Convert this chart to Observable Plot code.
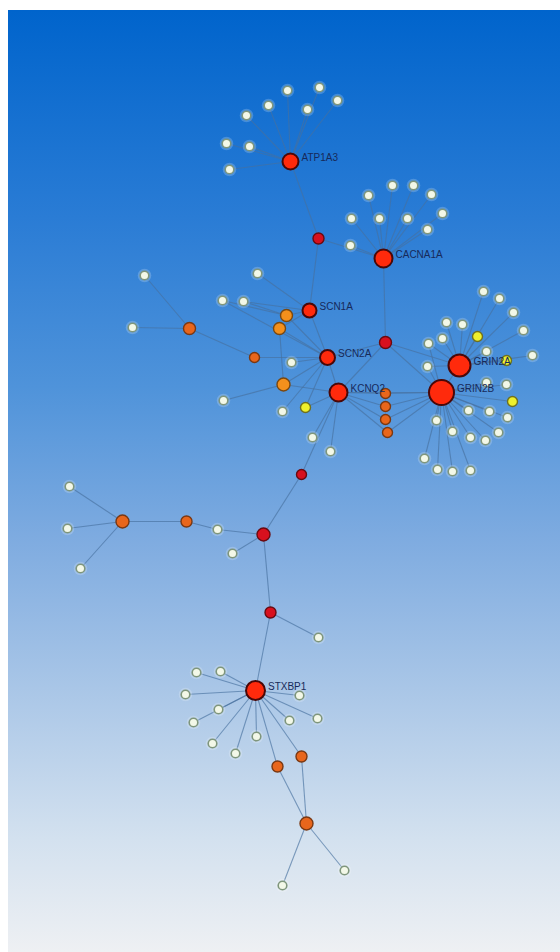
<!DOCTYPE html>
<html>
<head>
<meta charset="utf-8">
<script src="https://cdn.jsdelivr.net/npm/d3@7"></script>
<script src="https://cdn.jsdelivr.net/npm/@observablehq/plot@0.6"></script>
<style>
  html, body { margin: 0; padding: 0; background: #ffffff; }
  #wrap { position: relative; width: 560px; height: 952px; background: #ffffff; overflow: hidden; }
  #bg { position: absolute; left: 8px; top: 10px; right: 0; bottom: 0;
        background: linear-gradient(to bottom, #0064cc 0%, #2a7cd5 22%, #4f93da 40%, #7eabe0 56%, #a9c6e7 72%, #d3e1ef 88%, #eef0f3 100%); }
  #chart { position: absolute; left: 0; top: 0; }
</style>
</head>
<body>
<div id="wrap"><div id="bg"></div><div id="chart"></div></div>
<script>
// ---- Node data (layout coordinates) ----
const nodeIds = [
  "ATP1A3","CACNA1A","SCN1A","SCN2A","KCNQ2","GRIN2A","GRIN2B","STXBP1",
  "r1","r2","r3","r4","r5",
  "o1","o2","o3","o4","o5","o6","o7","o8","o9","o10","o11","o12","o13","o14",
  "y1","y2","y3","y4",
  "a1","a2","a3","a4","a5","a6","a7","a8","a9",
  "c1","c2","c3","c4","c5","c6","c7","c8","c9","c10",
  "L0","L1","L2","L3","L4","L5","L6","L7","L8","L9","L10","L11","L12","L13","L14","L15","L16","L17",
  "s1","s2","s3","s4","s5","s6","s7","s8","s9","s10","s11",
  "gA1","gA2","gA3","gA4","gA5","gA6","gA7","gA8","gA9","gA10","gA11",
  "gB1","gB2","gB3","gB4","gB5","gB6","gB7","gB8","gB9","gB10","gB11","gB12","gB13","gB14"
];
const nodeX = [
  290,383,309,327,338,459,441,255,
  318,385,301,263,270,
  286,279,189,254,283,385,385,385,387,122,186,301,277,306,
  305,477,506,512,
  287,319,337,268,307,246,226,249,229,
  392,413,368,431,351,379,407,442,427,350,
  144,257,222,243,132,223,291,282,312,330,217,69,67,80,232,318,344,282,
  196,220,185,218,193,212,235,256,289,317,299,
  483,499,513,446,462,523,442,428,486,532,427,
  486,506,468,489,507,436,452,470,485,498,424,437,452,470
];
const nodeY = [
  161,258,310,357,392,365,392,690,
  238,342,474,534,612,
  315,328,328,357,384,393,406,419,432,521,521,756,766,823,
  407,336,360,401,
  90,87,100,105,109,115,143,146,169,
  185,185,195,194,218,218,218,213,229,245,
  275,273,300,301,327,400,362,411,437,451,529,486,528,568,553,637,870,885,
  672,671,694,709,722,743,753,736,720,718,695,
  291,298,312,322,324,330,338,343,351,355,366,
  382,384,410,411,417,420,431,437,440,432,458,469,471,470
];
// node category: hub gene, red connector, orange, amber, yellow, leaf
const nodeKind = [
  "hub","hub","hub","hub","hub","hub","hub","hub",
  "red","red","red","red","red",
  "amber","amber","orange","orange","amber","orange","orange","orange","orange","orange","orange","orange","orange","orange",
  "yellow","yellow","yellow","yellow",
  ...Array(9).fill("leaf"), ...Array(10).fill("leaf"), ...Array(18).fill("leaf"),
  ...Array(11).fill("leaf"), ...Array(11).fill("leaf"), ...Array(14).fill("leaf")
];
// node weight (drawn as radius)
const nodeWeight = [
  8,9,7,7.5,9,11,12.5,9.5,
  5.5,6,5,6.5,5.5,
  6,6,6,5,6.5,5,5,5,5,6.5,5.5,5.5,5.5,6.5,
  5,5,5,5,
  ...Array(9+10+18+11+11+14).fill(4.3)
];

// ---- Edge data ----
const edgeFrom = [
  "a1","a2","a3","a4","a5","a6","a7","a8","a9","ATP1A3","r1","r1",
  "c1","c2","c3","c4","c5","c6","c7","c8","c9","c10","CACNA1A",
  "L1","L3","o1","o2","SCN1A","L2","L3","L2",
  "L0","L4","o3","o4",
  "o1","o2","o2","o5","o5","L5","L6","L7","y1","y1",
  "SCN2A","SCN2A","r2","r2","r2",
  "o6","o7","o8","o9","o6","o7","o8","o9","KCNQ2",
  "L8","L9","KCNQ2","r3","L10","o11","o10","L11","L12","L13","L14","r4",
  "r5","r5",
  "s1","s2","s3","s4","s5","s6","s7","s8","s9","s10","s11","o12","o13","o12","o13","o14","o14",
  "GRIN2A",
  "gA1","gA2","gA3","gA4","gA5","gA6","gA7","gA8","gA9","gA10","gA11","y2","y3",
  "gB1","gB2","y4","gB3","gB4","gB5","gB6","gB7","gB8","gB9","gB10","gB11","gB12","gB13","gB14","gA8","gA11"
];
const edgeTo = [
  "ATP1A3","ATP1A3","ATP1A3","ATP1A3","ATP1A3","ATP1A3","ATP1A3","ATP1A3","ATP1A3","r1","CACNA1A","SCN1A",
  "CACNA1A","CACNA1A","CACNA1A","CACNA1A","CACNA1A","CACNA1A","CACNA1A","CACNA1A","CACNA1A","CACNA1A","r2",
  "SCN1A","SCN1A","SCN1A","SCN1A","SCN2A","o1","o1","SCN2A",
  "o3","o3","o4","SCN2A",
  "SCN2A","SCN2A","o5","SCN2A","KCNQ2","o5","SCN2A","SCN2A","KCNQ2","SCN2A",
  "KCNQ2","r2","KCNQ2","GRIN2A","GRIN2B",
  "KCNQ2","KCNQ2","KCNQ2","KCNQ2","GRIN2B","GRIN2B","GRIN2B","GRIN2B","GRIN2B",
  "KCNQ2","KCNQ2","r3","r4","r4","L10","o11","o10","o10","o10","r4","r5",
  "L15","STXBP1",
  "STXBP1","STXBP1","STXBP1","STXBP1","STXBP1","STXBP1","STXBP1","STXBP1","STXBP1","STXBP1","STXBP1","STXBP1","STXBP1","o14","o14","L16","L17",
  "GRIN2B",
  "GRIN2A","GRIN2A","GRIN2A","GRIN2A","GRIN2A","GRIN2A","GRIN2A","GRIN2A","GRIN2A","GRIN2A","GRIN2A","GRIN2A","GRIN2A",
  "GRIN2B","GRIN2B","GRIN2B","GRIN2B","GRIN2B","GRIN2B","GRIN2B","GRIN2B","GRIN2B","GRIN2B","GRIN2B","GRIN2B","GRIN2B","GRIN2B","GRIN2B","GRIN2B","GRIN2B"
];

// ---- Build tables ----
const nodes = nodeIds.map((id, i) => ({id, x: nodeX[i], y: nodeY[i], kind: nodeKind[i], w: nodeWeight[i]}));
const byId = new Map(nodes.map(n => [n.id, n]));
const edges = edgeFrom.map((s, i) => ({s: byId.get(s), t: byId.get(edgeTo[i])}));
const hubs = nodes.filter(n => n.kind === "hub");

const styles = {
  leaf:   {fill: "#f3f8e8", stroke: "#7f967c", sw: 1.6},
  yellow: {fill: "#eef02c", stroke: "#6f7020", sw: 1.4},
  amber:  {fill: "#f4901c", stroke: "#7a4810", sw: 1.4},
  orange: {fill: "#e8661c", stroke: "#7a3812", sw: 1.4},
  red:    {fill: "#d8101e", stroke: "#6a0a10", sw: 1.4},
  hub:    {fill: "#ff2a0c", stroke: "#4a0808", sw: 2}
};
const order = ["leaf","yellow","amber","orange","red","hub"];

const chart = Plot.plot({
  width: 560,
  height: 952,
  margin: 0,
  style: {background: "transparent"},
  x: {domain: [0, 560], range: [0, 560], axis: null},
  y: {domain: [0, 952], range: [0, 952], axis: null},
  r: {type: "identity"},
  marks: [
    Plot.link(edges, {x1: d => d.s.x, y1: d => d.s.y, x2: d => d.t.x, y2: d => d.t.y,
      stroke: "#46709e", strokeOpacity: 0.65, strokeWidth: 1.1}),
    Plot.dot(nodes.filter(n => n.kind === "leaf"), {x: "x", y: "y", r: d => d.w + 2.5,
      fill: "#ffffff", fillOpacity: 0.2, stroke: "none"}),
    ...order.map(k => Plot.dot(nodes.filter(n => n.kind === k), {
      x: "x", y: "y", r: "w",
      fill: styles[k].fill, stroke: styles[k].stroke, strokeWidth: styles[k].sw
    })),
    Plot.text(hubs, {x: "x", y: "y", text: "id", textAnchor: "start",
      fontFamily: "Liberation Sans, Arial, sans-serif", fontSize: 10, fill: "#172a5a",
      dy: -4, render: (index, scales, values, dims, ctx, next) => {
        const g = next(index, scales, values, dims, ctx);
        d3.select(g).selectAll("text").each(function(_, j) {
          const n = hubs[index[j]];
          d3.select(this).attr("dx", n.w + 3);
        });
        return g;
      }})
  ]
});
document.getElementById("chart").appendChild(chart);
</script>
</body>
</html>
